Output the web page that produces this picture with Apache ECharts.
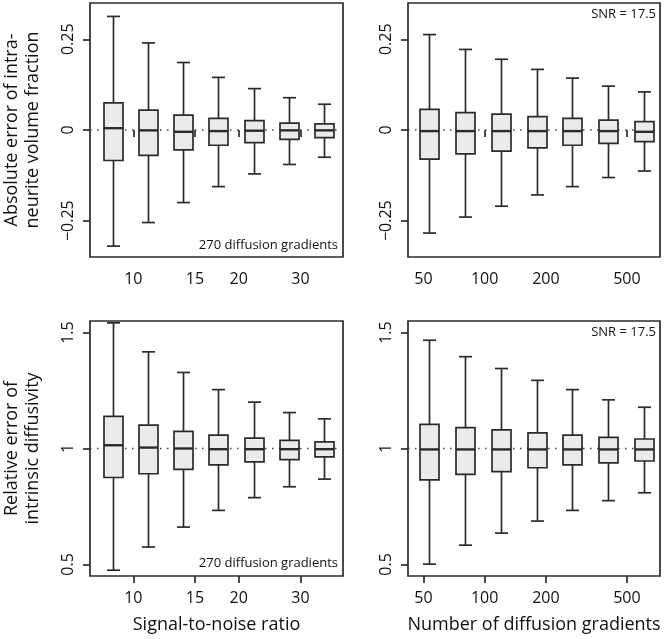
<!DOCTYPE html>
<html>
<head>
<meta charset="utf-8">
<script src="https://cdn.jsdelivr.net/npm/echarts@6/dist/echarts.min.js"></script>
<style>
html,body{margin:0;padding:0;background:#fff;}
#c{width:666px;height:639px;}
</style>
</head>
<body>
<div id="c"></div>
<script>
// ---------- data ----------
const snrValues = [8.75, 11.02, 13.89, 17.5, 22.05, 27.78, 35];
const gradientValues = [53.3, 80, 120, 180, 270, 405, 607.5];

const snrTicks = [10, 15, 20, 30];
const gradientTicks = [50, 100, 200, 500];
const fractionTicks = [-0.25, 0, 0.25];
const diffusivityTicks = [0.5, 1, 1.5];

// [low whisker, Q1, median, Q3, high whisker]
const fractionBySnr = [
  [-0.320, -0.084, 0.005, 0.075, 0.313],
  [-0.255, -0.070, -0.001, 0.055, 0.240],
  [-0.200, -0.055, -0.005, 0.041, 0.186],
  [-0.156, -0.042, -0.003, 0.032, 0.145],
  [-0.121, -0.035, -0.002, 0.026, 0.114],
  [-0.095, -0.026, -0.001, 0.019, 0.089],
  [-0.075, -0.021, -0.001, 0.017, 0.071]
];
const fractionByGradients = [
  [-0.284, -0.080, -0.003, 0.057, 0.263],
  [-0.240, -0.066, -0.003, 0.048, 0.222],
  [-0.210, -0.058, -0.003, 0.044, 0.195],
  [-0.179, -0.049, -0.003, 0.037, 0.167],
  [-0.156, -0.042, -0.003, 0.032, 0.143],
  [-0.131, -0.037, -0.003, 0.027, 0.121],
  [-0.113, -0.032, -0.005, 0.023, 0.105]
];
const diffusivityBySnr = [
  [0.475, 0.875, 1.014, 1.139, 1.542],
  [0.575, 0.891, 1.004, 1.101, 1.417],
  [0.661, 0.910, 1.000, 1.074, 1.328],
  [0.733, 0.929, 0.997, 1.058, 1.254],
  [0.788, 0.942, 0.997, 1.045, 1.200],
  [0.835, 0.952, 0.997, 1.035, 1.155],
  [0.868, 0.964, 0.997, 1.029, 1.128]
];
const diffusivityByGradients = [
  [0.501, 0.865, 0.996, 1.104, 1.467],
  [0.583, 0.888, 0.996, 1.090, 1.396],
  [0.635, 0.900, 0.996, 1.080, 1.345],
  [0.687, 0.917, 0.996, 1.067, 1.294],
  [0.733, 0.929, 0.996, 1.058, 1.254],
  [0.775, 0.938, 0.996, 1.048, 1.210],
  [0.809, 0.946, 0.996, 1.041, 1.178]
];
const fractionReference = 0;
const diffusivityReference = 1;

// ---------- style ----------
const FONT = '"Open Sans", "DejaVu Sans", sans-serif';
const INK = '#2b2b2b';
const TXT = '#111111';
const FILL = '#ebebeb';
const LW = 1.7;

const log10 = Math.log10;

function boxData(xs, stats) {
  return xs.map((x, i) => [log10(x)].concat(stats[i]));
}

function renderBox(params, api) {
  const x = api.value(0);
  const lo = api.coord([x, api.value(1)]);
  const q1 = api.coord([x, api.value(2)]);
  const md = api.coord([x, api.value(3)]);
  const q3 = api.coord([x, api.value(4)]);
  const hi = api.coord([x, api.value(5)]);
  const cx = Math.round(lo[0]) + 0.5;
  const hw = 9.5, cw = 6.5;
  const ls = {stroke: INK, lineWidth: LW};
  return {
    type: 'group',
    children: [
      {type: 'line', shape: {x1: cx, y1: hi[1], x2: cx, y2: q3[1]}, style: ls},
      {type: 'line', shape: {x1: cx, y1: q1[1], x2: cx, y2: lo[1]}, style: ls},
      {type: 'line', shape: {x1: cx - cw, y1: hi[1], x2: cx + cw, y2: hi[1]}, style: ls},
      {type: 'line', shape: {x1: cx - cw, y1: lo[1], x2: cx + cw, y2: lo[1]}, style: ls},
      {type: 'rect', shape: {x: cx - hw, y: q3[1], width: 2 * hw, height: q1[1] - q3[1]},
        style: {fill: FILL, stroke: INK, lineWidth: LW}},
      {type: 'line', shape: {x1: cx - hw, y1: md[1], x2: cx + hw, y2: md[1]},
        style: {stroke: INK, lineWidth: 2.4}}
    ]
  };
}

function renderRef(params, api) {
  const cs = params.coordSys;
  const p = api.coord([api.value(0), api.value(1)]);
  return {
    type: 'line',
    shape: {x1: cs.x, y1: p[1], x2: cs.x + cs.width, y2: p[1]},
    style: {stroke: '#444', lineWidth: 1.4, lineDash: [1.5, 5.5]}
  };
}

const grids = [
  {left: 90, top: 3, width: 253, height: 254},
  {left: 408, top: 3, width: 252, height: 254},
  {left: 90, top: 321, width: 253, height: 255},
  {left: 408, top: 321, width: 252, height: 255}
].map(g => Object.assign(g, {show: true, borderColor: INK, borderWidth: LW, backgroundColor: 'transparent'}));

function xAxis(gridIndex, min, max, ticks, name) {
  const vals = ticks.map(log10);
  return {
    type: 'value', gridIndex, min: log10(min), max: log10(max),
    splitLine: {show: false},
    axisLine: {show: false},
    axisTick: {show: true, inside: false, length: 7, customValues: vals, lineStyle: {color: INK, width: LW}},
    axisLabel: {show: true, customValues: vals, margin: 14, color: TXT, fontFamily: FONT, fontSize: 16,
      formatter: v => String(Math.round(Math.pow(10, v)))},
    name: name || '', nameLocation: 'middle', nameGap: 40,
    nameTextStyle: {color: TXT, fontFamily: FONT, fontSize: 18}
  };
}

function yAxis(gridIndex, min, max, ticks, name) {
  return {
    type: 'value', gridIndex, min, max,
    splitLine: {show: false},
    axisLine: {show: false},
    axisTick: {show: true, inside: false, length: 7, customValues: ticks, lineStyle: {color: INK, width: LW}},
    axisLabel: {show: true, customValues: ticks, rotate: 90, margin: 14, color: TXT, fontFamily: FONT, fontSize: 16,
      formatter: v => String(+v.toFixed(2)).replace('-', '\u2212')},
    name: name || '', nameLocation: 'middle', nameGap: 47, nameRotate: 90,
    nameTextStyle: {color: TXT, fontFamily: FONT, fontSize: 18, lineHeight: 21, align: 'center'}
  };
}

function refSeries(i, xs, v) {
  return {
    type: 'custom', xAxisIndex: i, yAxisIndex: i, z: 1, silent: true,
    renderItem: renderRef,
    encode: {x: 0, y: 1},
    data: [[log10(xs[0]), v]],
    animation: false
  };
}

function boxSeries(i, xs, stats) {
  return {
    type: 'custom', xAxisIndex: i, yAxisIndex: i, z: 3,
    renderItem: renderBox,
    encode: {x: 0, y: [1, 2, 3, 4, 5]},
    data: boxData(xs, stats),
    animation: false, silent: true
  };
}

function note(text, x, y, align) {
  return {
    type: 'text', x, y, z: 10,
    style: {text, fill: TXT, font: '13px ' + FONT, textAlign: align, textVerticalAlign: 'middle'}
  };
}

const option = {
  backgroundColor: '#ffffff',
  animation: false,
  grid: grids,
  xAxis: [
    xAxis(0, 7.52, 39.7, snrTicks),
    xAxis(1, 42, 727, gradientTicks),
    xAxis(2, 7.52, 39.7, snrTicks, 'Signal-to-noise ratio'),
    xAxis(3, 42, 727, gradientTicks, 'Number of diffusion gradients')
  ],
  yAxis: [
    yAxis(0, -0.35, 0.35, fractionTicks, 'Absolute error of intra-\nneurite volume fraction'),
    yAxis(1, -0.35, 0.35, fractionTicks),
    yAxis(2, 0.45, 1.55, diffusivityTicks, 'Relative error of\nintrinsic diffusivity'),
    yAxis(3, 0.45, 1.55, diffusivityTicks)
  ],
  series: [
    refSeries(0, snrValues, fractionReference),
    refSeries(1, gradientValues, fractionReference),
    refSeries(2, snrValues, diffusivityReference),
    refSeries(3, gradientValues, diffusivityReference),
    boxSeries(0, snrValues, fractionBySnr),
    boxSeries(1, gradientValues, fractionByGradients),
    boxSeries(2, snrValues, diffusivityBySnr),
    boxSeries(3, gradientValues, diffusivityByGradients)
  ],
  graphic: [
    note('270 diffusion gradients', 338, 245, 'right'),
    note('270 diffusion gradients', 338, 563, 'right'),
    note('SNR = 17.5', 656, 14, 'right'),
    note('SNR = 17.5', 656, 332, 'right')
  ]
};

const chart = echarts.init(document.getElementById('c'), null, {renderer: 'canvas'});
chart.setOption(option);
</script>
</body>
</html>
